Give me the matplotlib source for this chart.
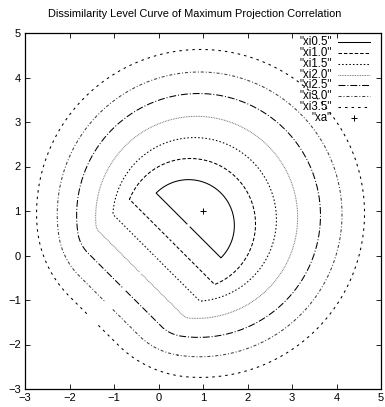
import numpy as np
import matplotlib
matplotlib.use("Agg")
import matplotlib.pyplot as plt

plt.rcParams["font.family"] = ["Liberation Sans", "DejaVu Sans"]
plt.rcParams["lines.scale_dashes"] = False

# Level curves: round part = circle centred at (c, c) with the given radius,
# flat side = the line x + y = cut, joined by corner fillets of radius `fillet`.
# Each curve is left open by `gap` (data units) where it crosses the diagonal.
labels = ['"xi0.5"', '"xi1.0"', '"xi1.5"', '"xi2.0"', '"xi2.5"', '"xi3.0"', '"xi3.5"']
centre = [0.675, 0.71, 0.81, 0.857, 0.90, 0.924, 0.945]
radius = [1.03, 1.47, 1.84, 2.27, 2.74, 3.20, 3.685]
cut = [1.35, 0.61, -0.10, -0.80, -1.53, -2.24, -2.92]
fillet = [0.0, 0.0, 0.1, 0.25, 0.8, 1.6, 2.5]
gap = [0.10, 0.05, 0.05, 0.05, 0.08, 0.26, 0.31]
xa = [1.0, 1.0]

x_ticks = [-3, -2, -1, 0, 1, 2, 3, 4, 5]
y_ticks = [-3, -2, -1, 0, 1, 2, 3, 4, 5]

styles = [
    dict(ls="-", color="black"),
    dict(ls=(0, (2.5, 1.4)), color="black"),
    dict(ls=(0, (1.1, 1.5)), color="black"),
    dict(ls=(0, (0.6, 0.6)), color="0.45"),
    dict(ls=(0, (5.0, 1.4, 0.7, 1.4)), color="black"),
    dict(ls=(0, (2.2, 1.4, 0.7, 1.4)), color="0.25"),
    dict(ls=(0, (1.8, 2.9)), color="black"),
]

W, H = 385, 407
fig = plt.figure(figsize=(W / 100, H / 100), dpi=100)
ax = fig.add_axes([25 / W, 18 / H, 356 / W, 356 / H])

N = np.array([1.0, 1.0]) / np.sqrt(2)   # towards upper right
T = np.array([-1.0, 1.0]) / np.sqrt(2)  # towards upper left


def arc(cx, cy, r, a0, a1):
    n = max(2, int(abs(a1 - a0) / 0.5) + 1)
    th = np.radians(np.linspace(a0, a1, n))
    return np.column_stack([cx + r * np.cos(th), cy + r * np.sin(th)])


def level_path(c, R, L, rho, g):
    A = np.array([c, c])
    d = (2 * c - L) / np.sqrt(2)
    vf = -d + rho
    uf = np.sqrt(max((R - rho) ** 2 - vf ** 2, 0.0))
    F1 = A + uf * T + vf * N
    F2 = A - uf * T + vf * N
    a1 = np.degrees(np.arctan2(*(F1 - A)[::-1])) % 360
    a2 = np.degrees(np.arctan2(*(F2 - A)[::-1])) % 360
    pts = [np.array([A - 0.5 * g * T - d * N, F2 - rho * N])]
    pts.append(arc(F2[0], F2[1], rho, 225.0, a2))
    pts.append(arc(c, c, R, a2, a1 + 360.0))
    pts.append(arc(F1[0], F1[1], rho, a1, 225.0))
    pts.append(np.array([F1 - rho * N, A + 0.5 * g * T - d * N]))
    return np.vstack(pts)


lw = 0.75
for c, R, L, rho, g, st in zip(centre, radius, cut, fillet, gap, styles):
    p = level_path(c, R, L, rho, g)
    ax.plot(p[:, 0], p[:, 1], lw=lw, **st)

ax.plot([xa[0]], [xa[1]], marker="+", ms=5, mew=0.7, color="black", ls="none")

ax.set_xlim(-3, 5)
ax.set_ylim(-3, 5)
ax.set_xticks(x_ticks)
ax.set_yticks(y_ticks)
ax.tick_params(direction="in", length=3.6, width=0.6, top=True, right=True,
               labelsize=8.0, pad=3)
for sp in ax.spines.values():
    sp.set_linewidth(0.9)

fig.text(195 / W, 1 - 14 / H,
         "Dissimilarity Level Curve of Maximum Projection Correlation",
         ha="center", va="center", fontsize=7.9)


def fx(px):
    return px / W


def fy(py):
    return 1 - py / H


# key in the upper right corner
row0, step = 42, 10.85
for i, (lab, st) in enumerate(zip(labels + ['"xa"'], styles + [None])):
    yy = row0 + i * step
    fig.text(fx(332), fy(yy), lab, ha="right", va="center", fontsize=8.3)
    if st is not None:
        fig.add_artist(plt.Line2D([fx(338), fx(370)], [fy(yy), fy(yy)],
                                  lw=lw, transform=fig.transFigure, **st))
    else:
        fig.add_artist(plt.Line2D([fx(354)], [fy(yy)], marker="+", ms=5, mew=0.7,
                                  color="black", ls="none",
                                  transform=fig.transFigure))

fig.savefig("out.png", dpi=100)
